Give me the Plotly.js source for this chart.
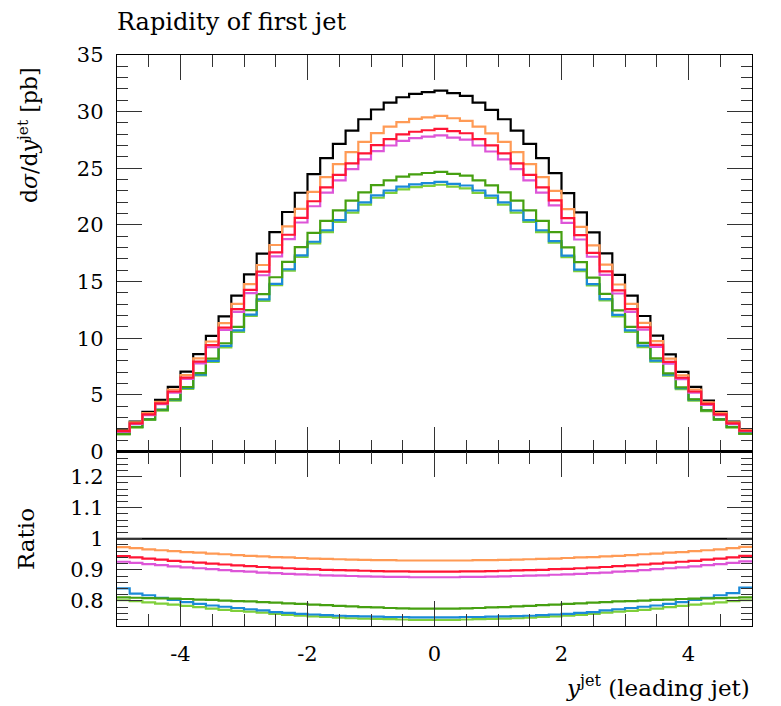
<!DOCTYPE html>
<html>
<head>
<meta charset="utf-8">
<script src="https://cdn.plot.ly/plotly-3.0.1.min.js"></script>
<style>html,body{margin:0;padding:0;background:#fff;}</style>
</head>
<body>
<div id="chart" style="width:781px;height:706px;"></div>
<script>
// Binning: 50 bins from -5 to 5
const binLow = -5;
const binHigh = 5;

// Reference (black) distribution dσ/dy [pb]
const blackVals = [1.9, 2.65, 3.5, 4.56, 5.7, 7.05, 8.6, 10.2, 11.93, 13.76,
  15.64, 17.46, 19.37, 21.14, 22.84, 24.49, 25.9, 27.16, 28.33, 29.33,
  30.19, 30.8, 31.27, 31.57, 31.72, 31.86, 31.63, 31.39, 30.8, 30.16,
  29.33, 28.33, 27.16, 25.9, 24.57, 22.81, 21.1, 19.34, 17.49, 15.6,
  13.76, 11.96, 10.23, 8.58, 7.03, 5.7, 4.5, 3.5, 2.65, 1.94];

// Ratios to the black reference
const ratioOrange = [0.973,0.970,0.966,0.963,0.960,0.957,0.955,0.952,0.950,0.947,
  0.945,0.943,0.941,0.940,0.938,0.936,0.935,0.934,0.933,0.932,
  0.931,0.931,0.930,0.930,0.930,0.930,0.930,0.930,0.931,0.931,
  0.932,0.933,0.934,0.935,0.936,0.938,0.940,0.941,0.943,0.945,
  0.947,0.950,0.952,0.955,0.957,0.960,0.963,0.966,0.970,0.974];
const ratioRed = [0.944,0.940,0.936,0.933,0.929,0.926,0.923,0.920,0.917,0.914,
  0.912,0.909,0.907,0.905,0.903,0.902,0.900,0.899,0.898,0.897,
  0.896,0.895,0.895,0.894,0.894,0.894,0.894,0.895,0.895,0.896,
  0.897,0.898,0.899,0.900,0.902,0.903,0.905,0.907,0.909,0.912,
  0.914,0.917,0.920,0.923,0.926,0.929,0.933,0.936,0.940,0.945];
const ratioMagenta = [0.926,0.922,0.918,0.915,0.911,0.908,0.905,0.902,0.899,0.896,
  0.894,0.891,0.889,0.887,0.885,0.884,0.882,0.881,0.880,0.879,
  0.878,0.877,0.877,0.876,0.876,0.876,0.876,0.877,0.877,0.878,
  0.879,0.880,0.881,0.882,0.884,0.885,0.887,0.889,0.891,0.894,
  0.896,0.899,0.902,0.905,0.908,0.911,0.915,0.918,0.922,0.927];
const ratioBlue = [0.840,0.823,0.818,0.810,0.803,0.796,0.790,0.785,0.781,0.777,
  0.773,0.769,0.764,0.761,0.758,0.756,0.754,0.752,0.751,0.750,
  0.749,0.748,0.748,0.747,0.747,0.747,0.747,0.748,0.748,0.749,
  0.750,0.751,0.752,0.754,0.756,0.758,0.761,0.764,0.769,0.773,
  0.777,0.781,0.785,0.790,0.796,0.803,0.810,0.818,0.825,0.843];
const ratioDarkGreen = [0.811,0.810,0.809,0.808,0.807,0.806,0.804,0.803,0.801,0.799,
  0.798,0.796,0.794,0.792,0.790,0.788,0.786,0.784,0.782,0.780,
  0.779,0.777,0.776,0.775,0.775,0.775,0.775,0.776,0.777,0.779,
  0.780,0.782,0.784,0.786,0.788,0.790,0.792,0.794,0.796,0.798,
  0.799,0.801,0.803,0.804,0.806,0.807,0.808,0.809,0.810,0.811];
const ratioLightGreen = [0.802,0.799,0.795,0.791,0.788,0.784,0.780,0.775,0.771,0.768,
  0.765,0.762,0.758,0.755,0.752,0.750,0.748,0.746,0.744,0.743,
  0.742,0.741,0.740,0.739,0.739,0.739,0.739,0.740,0.741,0.742,
  0.743,0.744,0.746,0.748,0.750,0.752,0.755,0.758,0.762,0.765,
  0.768,0.771,0.775,0.780,0.784,0.788,0.791,0.795,0.799,0.802];

const xTickVals = [-4, -2, 0, 2, 4];
const xTickText = ['-4', '-2', '0', '2', '4'];

const series = [
  {name: 'LightGreen', ratio: ratioLightGreen, color: '#7fcf3a'},
  {name: 'Blue', ratio: ratioBlue, color: '#1b8ad8'},
  {name: 'DarkGreen', ratio: ratioDarkGreen, color: '#46a011'},
  {name: 'Magenta', ratio: ratioMagenta, color: '#dd55d8'},
  {name: 'Orange', ratio: ratioOrange, color: '#ff9a55'},
  {name: 'Red', ratio: ratioRed, color: '#ff1535'}
];

const nb = blackVals.length;
const edges = [];
for (let i = 0; i <= nb; i++) edges.push(binLow + (binHigh - binLow) * i / nb);
const stepY = v => v.concat([v[v.length - 1]]);

const traces = [];
const LW = 2.2;
traces.push({x: edges, y: stepY(blackVals), type: 'scatter', mode: 'lines',
  line: {shape: 'hv', color: '#000000', width: LW}, xaxis: 'x', yaxis: 'y', hoverinfo: 'skip'});
traces.push({x: edges, y: stepY(blackVals.map(v => v / v)), type: 'scatter', mode: 'lines',
  line: {shape: 'hv', color: '#000000', width: LW}, xaxis: 'x2', yaxis: 'y2', hoverinfo: 'skip'});
series.forEach(s => {
  const vals = blackVals.map((b, i) => b * s.ratio[i]);
  traces.push({x: edges, y: stepY(vals), type: 'scatter', mode: 'lines', name: s.name,
    line: {shape: 'hv', color: s.color, width: LW}, xaxis: 'x', yaxis: 'y', hoverinfo: 'skip'});
  traces.push({x: edges, y: stepY(s.ratio), type: 'scatter', mode: 'lines', name: s.name,
    line: {shape: 'hv', color: s.color, width: LW}, xaxis: 'x2', yaxis: 'y2', hoverinfo: 'skip'});
});

const FONT = '"DejaVu Serif", "Liberation Serif", serif';
const tickFont = {family: FONT, size: 21, color: '#000'};
const split = 0.3056;

const axBase = {
  showline: true, linecolor: '#000', linewidth: 1.2, mirror: 'ticks',
  ticks: 'inside', tickcolor: '#333', tickwidth: 1, ticklen: 25,
  showgrid: false, zeroline: false, tickfont: tickFont, ticklabelstandoff: 8
};

const layout = {
  width: 781, height: 706,
  margin: {l: 117, r: 29, t: 55, b: 80},
  paper_bgcolor: '#fff', plot_bgcolor: '#fff',
  showlegend: false,
  font: {family: FONT, color: '#000'},
  title: {text: 'Rapidity of first jet', font: {family: FONT, size: 24, color: '#000'},
    xref: 'paper', x: 0, xanchor: 'left', yref: 'container', y: 1 - 22 / 706, yanchor: 'middle'},
  xaxis: Object.assign({}, axBase, {domain: [0, 1], range: [binLow, binHigh], anchor: 'y',
    tickmode: 'array', tickvals: xTickVals, showticklabels: false,
    minor: {dtick: 0.5, tick0: 0, ticks: 'inside', ticklen: 12, tickcolor: '#333', showgrid: false}}),
  yaxis: Object.assign({}, axBase, {domain: [split, 1], range: [0, 35], anchor: 'x',
    tickmode: 'linear', tick0: 0, dtick: 5,
    minor: {dtick: 1, tick0: 0, ticks: 'inside', ticklen: 11, tickcolor: '#333', showgrid: false}}),
  xaxis2: Object.assign({}, axBase, {domain: [0, 1], range: [binLow, binHigh], anchor: 'y2',
    tickmode: 'array', tickvals: xTickVals, ticktext: xTickText, ticklabelstandoff: 9,
    minor: {dtick: 0.5, tick0: 0, ticks: 'inside', ticklen: 12, tickcolor: '#333', showgrid: false}}),
  yaxis2: Object.assign({}, axBase, {domain: [0, split], range: [0.719, 1.281], anchor: 'x2',
    tickmode: 'linear', tick0: 0.8, dtick: 0.1,
    minor: {dtick: 0.02, tick0: 0.8, ticks: 'inside', ticklen: 11, tickcolor: '#333', showgrid: false}}),
  annotations: [
    {text: 'd<i>σ</i>/d<i>y</i><sup>jet</sup> [pb]', xref: 'paper', yref: 'paper',
      x: (28 - 117) / 635, y: (626 - 135) / 571, xanchor: 'center', yanchor: 'middle',
      textangle: -90, showarrow: false, font: {family: FONT, size: 22, color: '#000'}},
    {text: 'Ratio', xref: 'paper', yref: 'paper',
      x: (26 - 117) / 635, y: (626 - 539) / 571, xanchor: 'center', yanchor: 'middle',
      textangle: -90, showarrow: false, font: {family: FONT, size: 23, color: '#000'}},
    {text: '<i>y</i><sup>jet</sup> (leading jet)', xref: 'paper', yref: 'paper',
      x: 1, y: (626 - 686) / 571, xanchor: 'right', yanchor: 'middle',
      showarrow: false, font: {family: FONT, size: 23, color: '#000'}}
  ]
};

Plotly.newPlot('chart', traces, layout, {displayModeBar: false, staticPlot: true});
</script>
</body>
</html>
